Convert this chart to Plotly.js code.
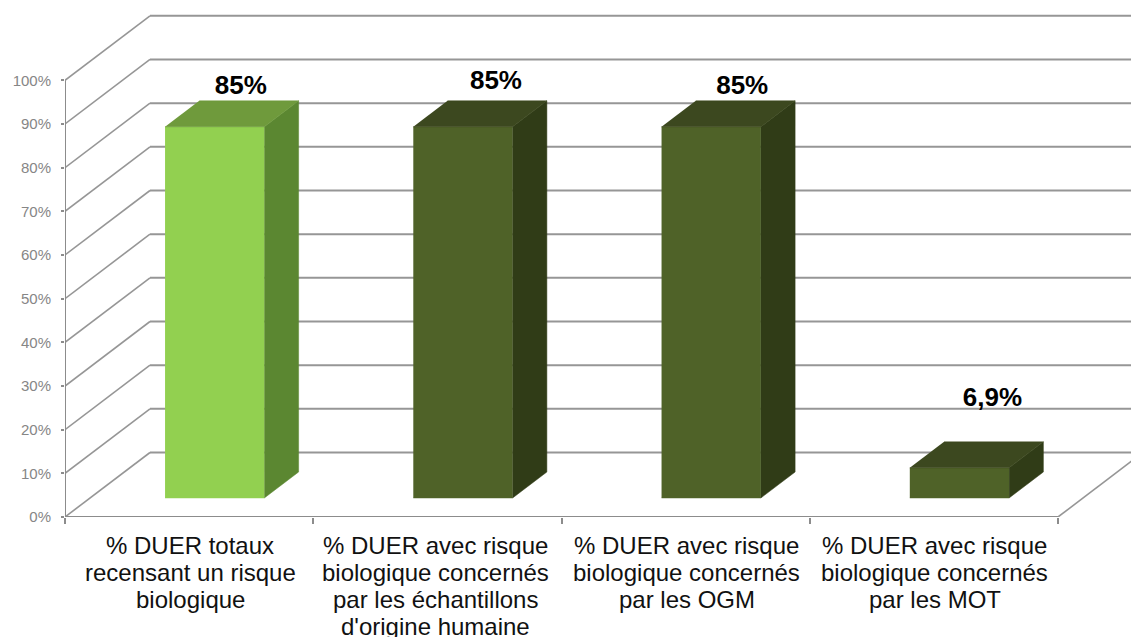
<!DOCTYPE html>
<html>
<head>
<meta charset="utf-8">
<script src="https://cdn.plot.ly/plotly-3.0.1.min.js"></script>
<style>html,body{margin:0;padding:0;background:#fff;overflow:hidden}</style>
</head>
<body>
<div id="chart" style="width:1131px;height:637px"></div>
<script>
// Chart values
const categoryLines = [
  ["% DUER totaux", "recensant un risque", "biologique"],
  ["% DUER avec risque", "biologique concernés", "par les échantillons", "d'origine humaine"],
  ["% DUER avec risque", "biologique concernés", "par les OGM"],
  ["% DUER avec risque", "biologique concernés", "par les MOT"]
];
const values = [85, 85, 85, 6.9];
const valueLabels = ["85%", "85%", "85%", "6,9%"];
const gridValues = [0, 10, 20, 30, 40, 50, 60, 70, 80, 90, 100];

// Small per-label placement tweaks (category units, percent units, pixels)
const labelNudgeX = [0.036, 0.064, 0.056, 0.064];
const labelLift = [6.1, 7.25, 6.1, 12.6];
const categoryShift = [1, -2, 1, 1];

// Oblique projection: how far the back wall sits from the front plane, in axis units
const DEPTH_X = 0.3424;
const DEPTH_Y = 14.77;
const BAR_START = 0.302, BAR_WIDTH = 0.4;
const BAR_NEAR = 0.295, BAR_FAR = 0.698;

const GRID = "#8c8c8c";
const WALL = "#969696";
const faces = [
  {front: "#92D050", top: "#6F9A3C", side: "#5B8731"},
  {front: "#4F6228", top: "#3C481F", side: "#303C17"},
  {front: "#4F6228", top: "#3C481F", side: "#303C17"},
  {front: "#4F6228", top: "#3C481F", side: "#303C17"}
];

const px = (cat, d) => cat + d * DEPTH_X;
const py = (val, d) => val + d * DEPTH_Y;

function polygon(points, color) {
  return {
    type: "scatter", mode: "lines", fill: "toself", fillcolor: color,
    x: points.map(p => px(p[0], p[1])),
    y: points.map(p => py(p[2], p[1])),
    line: {color: color, width: 0.5},
    hoverinfo: "skip", showlegend: false
  };
}

// Side wall diagonals and back wall horizontals
const dx = [], dy = [], hx = [], hy = [];
gridValues.forEach(v => {
  dx.push(px(0, 0), px(0, 1), null);
  dy.push(py(v, 0), py(v, 1), null);
  hx.push(px(0, 1), px(4, 1), null);
  hy.push(py(v, 1), py(v, 1), null);
});
const traces = [{
  type: "scatter", mode: "lines", x: dx, y: dy, cliponaxis: false,
  line: {color: WALL, width: 1.6}, hoverinfo: "skip", showlegend: false
}, {
  type: "scatter", mode: "lines", x: hx, y: hy, cliponaxis: false,
  line: {color: WALL, width: 2}, hoverinfo: "skip", showlegend: false
}, {
  // Front edges: value axis and category axis
  type: "scatter", mode: "lines", cliponaxis: false,
  x: [px(0, 0), px(0, 0), null, px(0, 0), px(4, 0)],
  y: [100, 0, null, 0, 0],
  line: {color: GRID, width: 2}, hoverinfo: "skip", showlegend: false
}, {
  // Floor's right edge
  type: "scatter", mode: "lines", cliponaxis: false,
  x: [px(4, 0), px(4, 1)],
  y: [0, py(0, 1)],
  line: {color: WALL, width: 1.6}, hoverinfo: "skip", showlegend: false
}];

// Each bar is three faces projected from its value
values.forEach((v, i) => {
  const a = i + BAR_START, b = a + BAR_WIDTH;
  const n = BAR_NEAR, f = BAR_FAR, c = faces[i];
  traces.push(polygon([[a, n, 0], [b, n, 0], [b, n, v], [a, n, v]], c.front));
  traces.push(polygon([[b, n, 0], [b, f, 0], [b, f, v], [b, n, v]], c.side));
  traces.push(polygon([[a, n, v], [b, n, v], [b, f, v], [a, f, v]], c.top));
});

// Value labels above the bars
traces.push({
  type: "scatter", mode: "text", cliponaxis: false,
  x: values.map((v, i) => px(i + BAR_START + BAR_WIDTH / 2 + labelNudgeX[i], (BAR_NEAR + BAR_FAR) / 2)),
  y: values.map((v, i) => py(v + labelLift[i], (BAR_NEAR + BAR_FAR) / 2)),
  text: valueLabels, textposition: "middle center",
  textfont: {family: "Liberation Sans, Arial, sans-serif", size: 26, color: "#000"},
  texttemplate: "<b>%{text}</b>",
  hoverinfo: "skip", showlegend: false
});

// Category labels, one annotation per line to hold the tight line spacing
const annotations = [];
categoryLines.forEach((lines, i) => {
  lines.forEach((line, k) => {
    annotations.push({
      x: i + 0.5, y: 0, xref: "x", yref: "y", text: line, showarrow: false,
      xanchor: "center", yanchor: "middle",
      xshift: categoryShift[i], yshift: -(28 + 27 * k),
      font: {family: "Liberation Sans, Arial, sans-serif", size: 24, color: "#111"}
    });
  });
});

const layout = {
  width: 1131, height: 637,
  margin: {l: 65, r: 0, t: 0, b: 120},
  paper_bgcolor: "#fff", plot_bgcolor: "#fff",
  showlegend: false,
  annotations: annotations,
  xaxis: {
    range: [0, 4.294], showgrid: false, zeroline: false, showline: false,
    tickmode: "array", tickvals: [0, 1, 2, 3, 4], showticklabels: false,
    ticks: "outside", ticklen: 6, tickwidth: 2, tickcolor: GRID
  },
  yaxis: {
    range: [0, 118.39], showgrid: false, zeroline: false, showline: false,
    tickmode: "array", tickvals: gridValues, ticktext: gridValues.map(v => v + "%"),
    ticks: "outside", ticklen: 3, tickwidth: 2, tickcolor: GRID,
    ticklabelstandoff: 7,
    tickfont: {family: "Liberation Sans, Arial, sans-serif", size: 15, color: "#868686"}
  }
};

Plotly.newPlot("chart", traces, layout, {displayModeBar: false, staticPlot: true});
</script>
</body>
</html>
